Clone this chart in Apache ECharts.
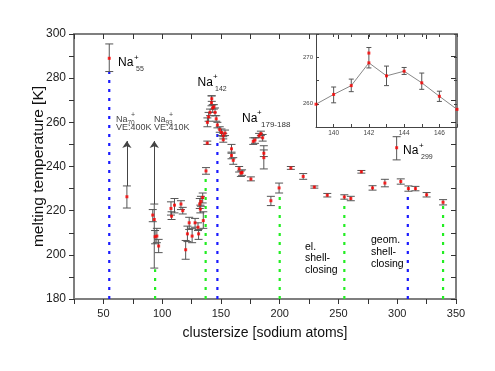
<!DOCTYPE html>
<html><head><meta charset="utf-8">
<script src="https://cdn.jsdelivr.net/npm/echarts@6/dist/echarts.min.js"></script>
<style>html,body{margin:0;padding:0;background:#fff}#c{width:495px;height:371px}</style>
</head><body><div id="c"></div>
<script>
// ---- main data (cluster size, melting temperature, error bounds) ----
const sizes = [55,70,92,93.3,94,95.5,97,107.5,108,110.5,116,117.5,120,121.5,123,125.5,128,130.5,131,132,133,132.5,134.5,135,137.3,138.4,138.5,139.5,140.7,142,142.2,143,144,145,146,147,149,150.5,152,153.5,152,159,159,160.5,165.5,167,168,175.5,177.5,179,182.5,184,185.5,186.5,186.5,192.5,199.5,209.5,220,229.5,240.5,255,260.5,269.5,279,289.5,299.5,303,309.5,315.5,325,339];
const temps = [289,226.3,218,216,208.2,208.5,204,221,217.5,222.5,223,220,202.3,209.5,214.5,208.5,214.5,212.5,209.5,223,224.2,220.7,226,215.5,238,250.6,260,262.5,264.5,268.9,270.7,266.5,267,264.5,261.6,258.8,256.7,255.4,253.9,255.1,252.1,248,245,242.8,239,237,237.3,234.3,251.4,252,253.9,254.9,253,246,244,224.5,230.3,239.3,235.5,230.7,227,226.2,225.5,237.6,230.3,232.5,248.5,233.2,230,230,227.2,223.8];
const errLow = [283,221.2,215,194,205,205.5,201,218,216,219,220.5,218.5,198,206,211.5,205.5,212.5,211,207,221,222,219,223.5,212,236.5,250,258,260.5,263,267.5,269.5,264.5,266,263,260.5,257.5,255.5,254,252.5,254,251,246,243.5,241,237.5,235.5,236,233.5,250,250.5,253,254,251.5,244.5,238.9,222.3,228,238.7,234.2,230.2,226.2,225.2,224.5,237,229.3,230.8,243,232,228.8,229,226.2,222.6];
const errHigh = [295.5,231.2,220.5,223,211,212,207,224,219.5,225.5,224.5,221.5,206.5,213,217,212,216.5,214.5,211.5,225.5,226.5,222.5,228,219.5,239.5,251.5,262,264.5,266,272,272,268,268,266.5,263,260,258,257,255,256.5,253.5,250,246.5,244,240,238,238.5,235.3,253,253,255,256,254.5,247.5,249.4,226.5,232.5,240,236.8,231.2,227.8,227.2,226.5,238.2,231.3,234.2,253.5,234.4,231.2,231,228.2,225];

// shell closings (dotted guide lines): size and top temperature
const elecShell = [94,137,200,255,339];
const elecTop = [193.5,236.5,228,225,222.6];
const geomShell = [55,147,309];
const geomTop = [283,257.5,228.8];

// upper limits (arrows)
const arrowSize = [70,93.3];
const arrowFrom = [231.2,223];
const arrowTo = [251.5,251.5];

// ---- inset data ----
const insetSize = [139,140,141,142,143,144,145,146,147];
const insetTemp = [259.9,262.0,263.9,268.8,266.0,267.0,264.5,261.6,258.8];
const insetLow = [null,260.2,262.6,267.7,263.9,266.3,263.1,260.5,null];
const insetHigh = [null,263.6,265.3,272.1,268.1,267.8,266.6,262.7,null];
const insetExtraSize = [142];
const insetExtraTemp = [270.9];

// tick labels
const xTickLabels = [50,100,150,200,250,300,350];
const yTickLabels = [180,200,220,240,260,280,300];
const insetXLabels = [140,142,144,146];
const insetYLabels = [260,270];

const FF = '"Liberation Sans", Arial, sans-serif';
const chart = echarts.init(document.getElementById('c'));

function errBar(capW, color){
  return function(params, api){
    const lo = api.value(1), hi = api.value(2);
    if (lo == null || hi == null || isNaN(lo) || isNaN(hi)) return null;
    const x = api.value(0);
    const a = api.coord([x, lo]), b = api.coord([x, hi]);
    const st = {stroke: color, lineWidth: 1};
    return {type:'group', children:[
      {type:'line', shape:{x1:a[0],y1:a[1],x2:b[0],y2:b[1]}, style:st},
      {type:'line', shape:{x1:a[0]-capW,y1:a[1],x2:a[0]+capW,y2:a[1]}, style:st},
      {type:'line', shape:{x1:b[0]-capW,y1:b[1],x2:b[0]+capW,y2:b[1]}, style:st}
    ]};
  };
}

const axisLineMain = {lineStyle:{color:'#7f7f7f', width:2}};
const series = [];

// dotted guide lines
elecShell.forEach((x,i)=>series.push({type:'line', xAxisIndex:0, yAxisIndex:0, symbol:'none', silent:true, z:1,
  data:[[x,180],[x,elecTop[i]]], lineStyle:{color:'#22ee22', width:2.2, type:[3,6], cap:'butt'}}));
geomShell.forEach((x,i)=>series.push({type:'line', xAxisIndex:0, yAxisIndex:0, symbol:'none', silent:true, z:1,
  data:[[x,180],[x,geomTop[i]]], lineStyle:{color:'#1a1aff', width:2.2, type:[3,6], cap:'butt'}}));

series.push({type:'custom', xAxisIndex:0, yAxisIndex:0, renderItem: errBar(4, '#555'), z:3,
  data: sizes.map((s,i)=>[s, errLow[i], errHigh[i]])});
series.push({type:'scatter', xAxisIndex:0, yAxisIndex:0, symbol:'rect', symbolSize:3, z:4,
  itemStyle:{color:'#ff0000'}, data: sizes.map((s,i)=>[s, temps[i]]),
  markLine:{silent:true, symbol:['none','arrow'], symbolSize:7, label:{show:false},
    lineStyle:{color:'#444', width:1, type:'solid'},
    data: arrowSize.map((x,i)=>[{coord:[x,arrowFrom[i]]},{coord:[x,arrowTo[i]]}])}});

// inset
series.push({type:'line', xAxisIndex:2, yAxisIndex:2, symbol:'none', z:10,
  lineStyle:{color:'#888', width:1}, data: insetSize.map((s,i)=>[s, insetTemp[i]])});
series.push({type:'custom', xAxisIndex:2, yAxisIndex:2, renderItem: errBar(2.5, '#555'), z:11,
  data: insetSize.map((s,i)=>[s, insetLow[i], insetHigh[i]])});
series.push({type:'scatter', xAxisIndex:2, yAxisIndex:2, symbol:'rect', symbolSize:3, z:12,
  itemStyle:{color:'#ff0000'}, data: insetSize.map((s,i)=>[s, insetTemp[i]]).concat(insetExtraSize.map((s,i)=>[s, insetExtraTemp[i]]))});

function t(text, x, y, size, color){
  return {type:'text', x:x, y:y, z:100, silent:true,
    style:{text:text, font: size+'px '+FF, fill: color||'#000', align:'left', verticalAlign:'middle'}};
}
const G = '#444';
const graphics = [
  t('Na',118,63,12), t('+',134,58,8), t('55',136,69,7,'#333'),
  t('Na',197.5,82.5,12), t('+',213,77,8), t('142',215,89.5,7,'#333'),
  t('Na',242,119,12), t('+',257,113,8), t('179-188',261,125,8,'#333'),
  t('Na',403,151,12), t('+',419,146,8), t('299',421,157,7,'#333'),
  t('Na',116,119.5,9,G), t('+',131,115,7,G), t('70',127.5,123.5,6.5,G), t('VE:400K',116,128,9,G),
  t('Na',154,119.5,9,G), t('+',169,115,7,G), t('93',165.5,123.5,6.5,G), t('VE:410K',154,128,9,G),
  t('el.',305,247,10.5), t('shell-',305,258.5,10.5), t('closing',305,270,10.5),
  t('geom.',371,240,10.5), t('shell-',371,252,10.5), t('closing',371,264.5,10.5)
];

chart.setOption({
  animation:false,
  backgroundColor:'#fff',
  grid:[
    {left:74, top:34, right:39, bottom:72},
    {left:316, top:34, width:141, height:93, show:true, backgroundColor:'#fff', borderWidth:0}
  ],
  xAxis:[
    {gridIndex:0, type:'value', min:25, max:350, interval:25, position:'bottom',
      axisLine:axisLineMain, axisTick:{length:5, lineStyle:{color:'#333'}},
      axisLabel:{formatter:v=>xTickLabels.includes(v)?String(v):'', fontSize:11, color:'#222', margin:9, fontFamily:FF},
      splitLine:{show:false},
      name:'clustersize [sodium atoms]', nameLocation:'middle', nameGap:27, nameMoveOverlap:false,
      nameTextStyle:{fontSize:14, color:'#111', fontFamily:FF}},
    {gridIndex:0, type:'value', min:25, max:350, interval:25, position:'top',
      axisLine:axisLineMain, axisTick:{inside:true, length:5, lineStyle:{color:'#333'}},
      axisLabel:{show:false}, splitLine:{show:false}},
    {gridIndex:1, type:'value', min:139, max:147, interval:1, position:'bottom', z:12,
      axisLine:{lineStyle:{color:'#444', width:1}}, axisTick:{inside:true, length:3, lineStyle:{color:'#444'}},
      axisLabel:{formatter:v=>insetXLabels.includes(v)?String(v):'', fontSize:6.5, color:'#444', margin:3, fontFamily:FF},
      splitLine:{show:false}},
    {gridIndex:1, type:'value', min:139, max:147, interval:1, position:'top', z:12,
      axisLine:{lineStyle:{color:'#7f7f7f', width:2}}, axisTick:{inside:true, length:3, lineStyle:{color:'#444'}},
      axisLabel:{show:false}, splitLine:{show:false}}
  ],
  yAxis:[
    {gridIndex:0, type:'value', min:180, max:300, interval:10, position:'left',
      axisLine:{show:true, lineStyle:{color:'#7f7f7f', width:2}}, axisTick:{show:true, length:5, lineStyle:{color:'#333'}},
      axisLabel:{formatter:v=>yTickLabels.includes(v)?String(v):'', fontSize:12, color:'#222', margin:8, fontFamily:FF},
      splitLine:{show:false},
      name:'melting temperature [K]', nameLocation:'middle', nameGap:27, nameRotate:90, nameMoveOverlap:false,
      nameTextStyle:{fontSize:15.5, color:'#111', fontFamily:FF}},
    {gridIndex:0, type:'value', min:180, max:300, interval:10, position:'right',
      axisLine:{show:true, lineStyle:{color:'#7f7f7f', width:2}}, axisTick:{show:true, inside:true, length:5, lineStyle:{color:'#333'}},
      axisLabel:{show:false}, splitLine:{show:false}},
    {gridIndex:1, type:'value', min:255, max:275, interval:5, position:'left', z:12,
      axisLine:{show:true, lineStyle:{color:'#444', width:1}}, axisTick:{show:true, inside:true, length:3, lineStyle:{color:'#444'}},
      axisLabel:{formatter:v=>insetYLabels.includes(v)?String(v):'', fontSize:6, color:'#444', margin:3, fontFamily:FF},
      splitLine:{show:false}},
    {gridIndex:1, type:'value', min:255, max:275, interval:5, position:'right', z:12,
      axisLine:{show:true, lineStyle:{color:'#7f7f7f', width:2}}, axisTick:{show:true, inside:true, length:3, lineStyle:{color:'#444'}},
      axisLabel:{show:false}, splitLine:{show:false}}
  ],
  series: series,
  graphic: graphics
});
</script></body></html>
